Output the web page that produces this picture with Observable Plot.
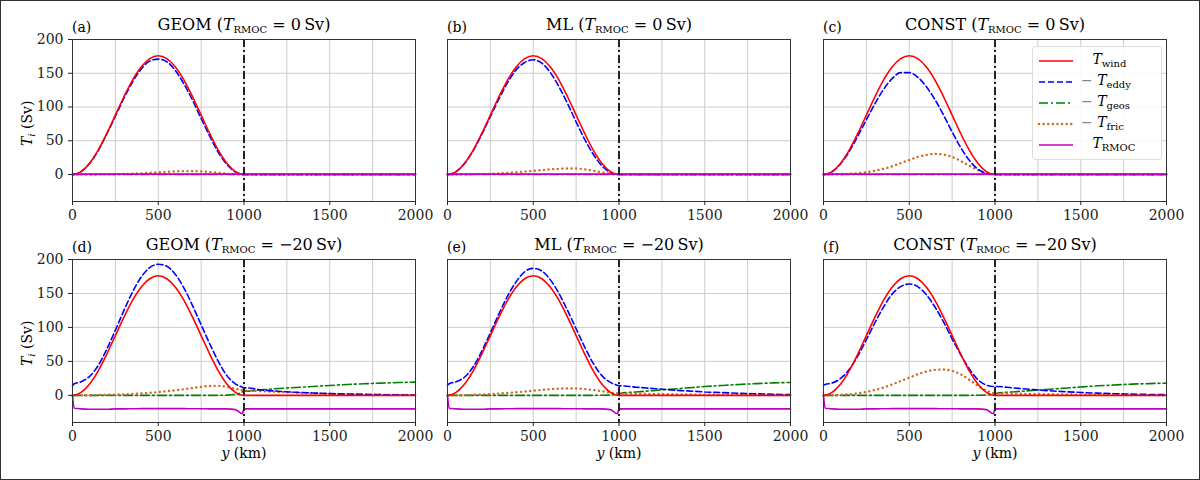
<!DOCTYPE html>
<html><head><meta charset="utf-8">
<script src="https://cdn.jsdelivr.net/npm/d3@7"></script>
<script src="https://cdn.jsdelivr.net/npm/@observablehq/plot@0.6"></script>
<style>
body{margin:0;background:#fff;font-family:"DejaVu Serif",serif;}
#wrap{position:relative;width:1198px;height:478px;border:1px solid #333;background:#fff;overflow:hidden}
.p{position:absolute}
.t{position:absolute;font-size:16px;white-space:nowrap;transform:translateX(-50%)}
.tag{position:absolute;font-size:14px}
.yl{position:absolute;font-size:14px;transform:rotate(-90deg);transform-origin:left top;white-space:nowrap}
.xl{position:absolute;font-size:14px;transform:translateX(-50%)}
sub{font-size:10px;vertical-align:-3px}
#leg{position:absolute;left:1031px;top:45px;width:128px;height:108px;border:1px solid #ddd;border-radius:3px;background:rgba(255,255,255,0.85);font-size:14px}
#leg div{position:relative;height:21px}
#leg svg{position:absolute;left:4px;top:6px}
#leg span{position:absolute;left:48px;top:0}
</style></head><body><div id="wrap"></div>
<script>
const X = [0,10,50,100,150,200,250,300,350,400,450,500,550,600,650,700,750,800,850,900,950,990,1000,1010,1100,1200,1300,1400,1500,1600,1700,1800,1900,2000];
const tail0 = [0,0,0,0,0,0,0,0,0,0];
const wind = [0,0.2,4.3,16.8,36.1,60.8,88,115.2,139.9,159.2,171.7,176,171.7,159.2,139.9,115.2,88,60.8,36.1,16.8,4.3,0.2,0,0,...tail0];
const zeros = X.map(()=>0);
const rmocTop = X.map(()=>0.5);
const eddyA = [0,0.2,4.2,16.5,35.5,60,86.5,113,137,156,168,171,167,154,134,110,83,57,33,15,3.8,0.2,0,0,...tail0];
const eddyB = [0,0.2,4.2,16.5,35.5,59.5,86,112,136,155,166,170,165,151,130,105,78,52,30,13,3,0.2,0,0,...tail0];
const eddyC = [0,0.2,4.1,16,34,57,81,105,126,142,151,151,144,130,111,88,63,40,21,8,1.5,0.1,0,0,...tail0];
const fricA = [0,0,0,0,0.1,0.2,0.4,0.7,1.1,1.7,2.4,3.1,3.8,4.5,5,5,4.5,3.6,2.4,1.2,0.4,0.1,0,0,...tail0];
const fricB = [0,0,0,0.1,0.3,0.6,1,1.6,2.4,3.3,4.3,5.4,6.5,7.6,8.5,9,8.8,7.6,5.6,3.2,1.2,0.3,0,0,...tail0];
const fricC = [0,0,0.1,0.4,1,2,3.5,5.5,8.5,12,17,21.5,26,29,30.5,29.5,26,20,13,6.5,2,0.4,0,0,...tail0];
const eddyD = [14,17,20,28,44,68,96,125,152,174,188,193,190,178,158,132,104,76,50,29,17,12,11,11,8,6,4.5,3.5,2.5,2,1.5,1,0.7,0.5];
const eddyE = [15,17,20,27,42,65,92,120,146,167,182,187,183,170,150,125,98,71,47,29,19,15,14,14,12,10,8,6.5,5,4,3,2.2,1.6,1];
const eddyF = [15,16,18,25,38,58,82,107,130,149,160,164,160,148,130,108,83,60,39,23,15,13,13,13,11,9,7,5.5,4.2,3.2,2.4,1.8,1.3,1];
const fricD = [0,0,0.1,0.2,0.4,0.7,1,1.5,2,2.8,3.7,4.8,6,7.4,9,10.8,12.5,13.8,14,12.5,9.5,7.5,7,7,6,5,4,3,2.2,1.6,1.1,0.8,0.5,0.3];
const fricE = [0,0,0.1,0.3,0.7,1.2,1.8,2.6,3.5,4.5,5.6,6.8,8,9,9.8,10.2,10,9.2,7.8,6,4,3,2.8,2.8,2.5,2,1.6,1.2,0.9,0.7,0.5,0.4,0.3,0.2];
const fricF = [0,0,0.2,0.6,1.5,3,5,8,11.5,16,21,26,31,35,37.5,38,36,31,23,14,7,3.5,3,3,2.6,2.1,1.7,1.3,1,0.8,0.6,0.4,0.3,0.2];
const geosD = [0,0,0,0,0,0,0,0,0,0,0,0,0,0,0,0,0,0,0,0.3,1.5,5,8,6,8,10,11.5,13,14.5,16,17,18,18.8,19.5];
const geosE = [0,0,0,0,0,0,0,0,0,0,0,0,0,0,0,0,0,0,0,0.1,0.5,2,2.5,3,5,7,9,11,13,14.5,16,17.2,18.3,19];
const geosF = [0,0,0,0,0,0,0,0,0,0,0,0,0,0,0,0,0,0,0,0.1,0.5,2,2.5,3,5,6.8,8.7,10.5,12.3,14,15.3,16.5,17.3,18];
const rmocBot = [0,-19,-20,-20.5,-20.5,-20.5,-20,-20,-19.8,-19.5,-19.5,-19.5,-19.5,-19.5,-19.6,-19.7,-19.8,-19.9,-20,-20,-21,-27,-20,-20,-20,-20,-20,-20,-20,-20,-20,-20,-20,-20];
const xTicks = [0,500,1000,1500,2000];
const xGrid = [0,250,500,750,1000,1250,1500,1750,2000];
const yTicks = [0,50,100,150,200];

const panels = [
 {tag:"(a)",name:"GEOM",val:"0",eddy:eddyA,fric:fricA,geos:zeros,rmoc:rmocTop,row:0,col:0},
 {tag:"(b)",name:"ML",val:"0",eddy:eddyB,fric:fricB,geos:zeros,rmoc:rmocTop,row:0,col:1},
 {tag:"(c)",name:"CONST",val:"0",eddy:eddyC,fric:fricC,geos:zeros,rmoc:rmocTop,row:0,col:2},
 {tag:"(d)",name:"GEOM",val:"−20",eddy:eddyD,fric:fricD,geos:geosD,rmoc:rmocBot,row:1,col:0},
 {tag:"(e)",name:"ML",val:"−20",eddy:eddyE,fric:fricE,geos:geosE,rmoc:rmocBot,row:1,col:1},
 {tag:"(f)",name:"CONST",val:"−20",eddy:eddyF,fric:fricF,geos:geosF,rmoc:rmocBot,row:1,col:2}
];
const styles = {
 wind:{stroke:"#ff0000",strokeWidth:1.6},
 eddy:{stroke:"#0000ff",strokeWidth:1.6,strokeDasharray:"6,3"},
 geos:{stroke:"#008000",strokeWidth:1.6,strokeDasharray:"9,3,2,3"},
 fric:{stroke:"#d2691e",strokeWidth:2.4,strokeDasharray:"0.1,4.5",strokeLinecap:"round"},
 rmoc:{stroke:"#bf00bf",strokeWidth:1.6}
};
const wrap = document.getElementById("wrap");
const colLeft=[0,375,751];
panels.forEach(p=>{
  const top = p.row===0?0:220;
  const H = p.row===0?230:260;
  const ph = p.row===0?162:163;
  const mk = arr => X.map((x,i)=>({x,y:arr[i]}));
  const series = [["geos",p.geos],["fric",p.fric],["eddy",p.eddy],["wind",wind],["rmoc",p.rmoc]];
  const chart = Plot.plot({
    width:434,height:H,marginLeft:71,marginRight:20,marginTop:38,marginBottom:H-38-ph,
    style:{fontFamily:"DejaVu Serif",fontSize:"14px",background:"transparent",color:"#222",overflow:"visible"},
    x:{domain:[0,2000],label:null,axis:null},
    y:{domain:[-40,200],label:null,axis:null},
    marks:[
      Plot.ruleX(xGrid,{stroke:"#ccc",strokeWidth:1}),
      Plot.ruleY([0,50,100,150,200],{stroke:"#ccc",strokeWidth:1}),
      ...series.map(([k,a])=>Plot.line(mk(a),{x:"x",y:"y",curve:"monotone-x",...styles[k]})),
      Plot.ruleX([1000],{stroke:"#222",strokeWidth:2,strokeDasharray:"8,3,2,3"}),
      Plot.frame({stroke:"#333"}),
      Plot.axisX({ticks:xTicks,tickFormat:d=>String(d),fontSize:14,tickSize:4,label:null}),
      ...(p.col===0?[Plot.axisY({ticks:yTicks,tickFormat:d=>String(d),fontSize:14,tickSize:4,label:null})]:[])
    ]
  });
  chart.classList.add("p");
  chart.style.left=colLeft[p.col]+"px"; chart.style.top=top+"px";
  wrap.appendChild(chart);
  const x0=colLeft[p.col]+71;
  const tag=document.createElement("div");tag.className="tag";tag.textContent=p.tag;
  tag.style.left=x0+"px";tag.style.top=(top+18)+"px";wrap.appendChild(tag);
  const t=document.createElement("div");t.className="t";
  t.innerHTML=`${p.name} (<i>T</i><sub>RMOC</sub> = ${p.val}&#8201;Sv)`;
  t.style.left=(x0+172)+"px";t.style.top=(top+14)+"px";wrap.appendChild(t);
  if(p.col===0){const yl=document.createElement("div");yl.className="yl";
    yl.innerHTML=`<i>T<sub>i</sub></i> (Sv)`;yl.style.left=(18)+"px";yl.style.top=(top+145)+"px";wrap.appendChild(yl);}
  if(p.row===1){const xl=document.createElement("div");xl.className="xl";
    xl.innerHTML=`<i>y</i> (km)`;xl.style.left=(x0+172)+"px";xl.style.top=(top+224)+"px";wrap.appendChild(xl);}
});
const legItems=[["wind","",'wind'],["eddy","− ",'eddy'],["geos","− ",'geos'],["fric","− ",'fric'],["rmoc","",'RMOC']];
const leg=document.createElement("div");leg.id="leg";
leg.innerHTML=legItems.map(([k,pre,sub])=>{const s=styles[k];
 return `<div><svg width="40" height="8"><line x1="2" x2="36" y1="4" y2="4" stroke="${s.stroke}" stroke-width="${s.strokeWidth}" stroke-dasharray="${s.strokeDasharray||''}" stroke-linecap="${s.strokeLinecap||'butt'}"/></svg><span><span style="position:static;color:#888">${pre?'−':'&#8194;'}</span> <i>T</i><sub>${sub}</sub></span></div>`}).join("");
leg.style.paddingTop="4px";
wrap.appendChild(leg);
</script></body></html>
